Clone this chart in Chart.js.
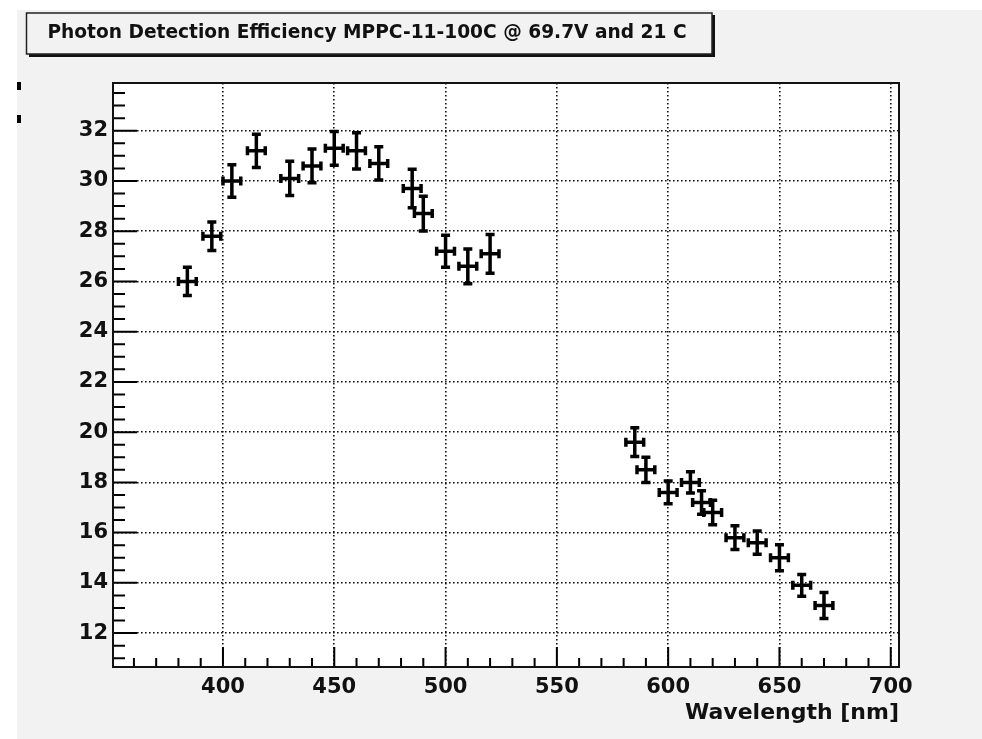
<!DOCTYPE html>
<html>
<head>
<meta charset="utf-8">
<script src="https://cdn.jsdelivr.net/npm/chart.js@4.4.0/dist/chart.umd.min.js"></script>
<style>
html, body { margin: 0; padding: 0; background: #fff; }
</style>
</head>
<body>
<canvas id="myChart" width="982" height="739"></canvas>
<script>
// values
const wavelength = [384, 395, 404, 415, 430, 440, 450, 460, 470, 485, 490, 500, 510, 520,
                    585, 590, 600, 610, 615, 620, 630, 640, 650, 660, 670]
const efficiency = [26.0, 27.8, 30.0, 31.2, 30.1, 30.6, 31.3, 31.2, 30.7, 29.7, 28.7, 27.2, 26.6, 27.1,
                    19.6, 18.5, 17.6, 18.0, 17.2, 16.8, 15.8, 15.6, 15.0, 13.9, 13.1]
const effError = [0.56, 0.57, 0.65, 0.66, 0.68, 0.67, 0.67, 0.72, 0.66, 0.77, 0.69, 0.64, 0.69, 0.77,
                  0.57, 0.50, 0.45, 0.42, 0.47, 0.49, 0.47, 0.46, 0.52, 0.43, 0.52]
const waveError = [4, 4, 4, 4, 4, 4, 4, 4, 4, 4, 4, 4, 4, 4,
                   4, 4, 4, 4, 4, 4, 4, 4, 4, 4, 4]
const xTicks = [400, 450, 500, 550, 600, 650, 700]
const yTicks = [12, 14, 16, 18, 20, 22, 24, 26, 28, 30, 32]
const titleText = 'Photon Detection Efficiency MPPC-11-100C @ 69.7V and 21 C'
const xTitle = 'Wavelength [nm]'

const FONT = "'DejaVu Sans', sans-serif"

// page background, title pave
const backdrop = {
    id: 'backdrop',
    beforeDraw(chart) {
        const {ctx, width, height, chartArea: a} = chart
        ctx.save()
        ctx.fillStyle = '#fff'
        ctx.fillRect(0, 0, width, height)
        ctx.fillStyle = '#f2f2f2'
        ctx.fillRect(17, 10, width - 17, height - 10)
        ctx.fillStyle = '#fff'
        ctx.fillRect(a.left, a.top, a.right - a.left, a.bottom - a.top)
        // stray marks on the left edge
        ctx.fillStyle = '#000'
        ctx.fillRect(17, 82, 4, 8)
        ctx.fillRect(17, 115, 4, 8)
        // title box with shadow
        ctx.fillStyle = '#111'
        ctx.fillRect(29, 15, 686, 42)
        ctx.fillStyle = '#f2f2f2'
        ctx.fillRect(26, 13, 686, 41)
        ctx.strokeStyle = '#222'
        ctx.lineWidth = 1.5
        ctx.strokeRect(26.5, 13, 685.5, 41)
        ctx.fillStyle = '#111'
        ctx.font = "bold 18.6px " + FONT
        ctx.textAlign = 'center'
        ctx.textBaseline = 'middle'
        ctx.fillText(titleText, 367, 33.5)
        ctx.restore()
    }
}

// frame and inward ticks, ROOT style
const frame = {
    id: 'frame',
    afterDraw(chart) {
        const {ctx, chartArea: a, scales: {x, y}} = chart
        ctx.save()
        ctx.strokeStyle = '#000'
        ctx.lineWidth = 2
        ctx.beginPath()
        for (let v = 360; v <= x.max; v += 10) {
            const px = x.getPixelForValue(v)
            const len = v % 50 === 0 ? 20 : 9
            ctx.moveTo(px, a.bottom)
            ctx.lineTo(px, a.bottom - len)
        }
        for (let v = 11; v <= y.max; v += 0.5) {
            const py = y.getPixelForValue(v)
            const len = v % 2 === 0 ? 24 : 12
            ctx.moveTo(a.left, py)
            ctx.lineTo(a.left + len, py)
        }
        ctx.stroke()
        ctx.strokeStyle = '#111'
        ctx.lineWidth = 2
        ctx.strokeRect(a.left, a.top, a.right - a.left, a.bottom - a.top)
        ctx.restore()
    }
}

const errorBars = {
    id: 'errorBars',
    afterDatasetsDraw(chart) {
        const {ctx, scales: {x, y}} = chart
        ctx.save()
        ctx.strokeStyle = '#000'
        ctx.lineWidth = 3.5
        const c = 4.5
        wavelength.forEach((w, i) => {
            const px = x.getPixelForValue(w)
            const py = y.getPixelForValue(efficiency[i])
            const x0 = x.getPixelForValue(w - waveError[i])
            const x1 = x.getPixelForValue(w + waveError[i])
            const y0 = y.getPixelForValue(efficiency[i] + effError[i])
            const y1 = y.getPixelForValue(efficiency[i] - effError[i])
            ctx.beginPath()
            ctx.moveTo(x0, py); ctx.lineTo(x1, py)
            ctx.moveTo(px, y0); ctx.lineTo(px, y1)
            ctx.moveTo(x0, py - c); ctx.lineTo(x0, py + c)
            ctx.moveTo(x1, py - c); ctx.lineTo(x1, py + c)
            ctx.moveTo(px - c, y0); ctx.lineTo(px + c, y0)
            ctx.moveTo(px - c, y1); ctx.lineTo(px + c, y1)
            ctx.stroke()
        })
        ctx.restore()
    }
}

var ctx = document.getElementById('myChart').getContext('2d')
var myChart = new Chart(ctx, {
    type: 'scatter',
    data: {
        datasets: [{
            label: 'PDE',
            data: wavelength.map((w, i) => ({x: w, y: efficiency[i]})),
            pointRadius: 0,
            showLine: false
        }]
    },
    options: {
        responsive: false,
        animation: false,
        devicePixelRatio: 1,
        layout: {padding: {left: 0, top: 83, right: 83, bottom: 0}},
        plugins: {
            legend: {display: false},
            title: {display: false},
            tooltip: {enabled: false}
        },
        scales: {
            x: {
                type: 'linear',
                min: 350.6,
                max: 703.7,
                afterBuildTicks: s => { s.ticks = xTicks.map(v => ({value: v})) },
                afterFit: s => { s.height = 72 },
                grid: {color: '#111', lineWidth: 1.6, drawTicks: false},
                border: {display: false, dash: [1.6, 2.4]},
                ticks: {
                    color: '#111',
                    padding: 8,
                    maxRotation: 0,
                    font: {family: FONT, size: 21, weight: 'bold'}
                },
                title: {
                    display: true,
                    text: xTitle,
                    align: 'end',
                    color: '#111',
                    padding: {top: 0, bottom: 13},
                    font: {family: FONT, size: 22, weight: 'bold'}
                }
            },
            y: {
                type: 'linear',
                min: 10.65,
                max: 33.9,
                afterBuildTicks: s => { s.ticks = yTicks.map(v => ({value: v})) },
                afterFit: s => { s.width = 113 },
                grid: {color: '#111', lineWidth: 1.6, drawTicks: false},
                border: {display: false, dash: [1.6, 2.4]},
                ticks: {
                    color: '#111',
                    padding: 5,
                    font: {family: FONT, size: 21, weight: 'bold'}
                }
            }
        }
    },
    plugins: [backdrop, errorBars, frame]
})
</script>
</body>
</html>
